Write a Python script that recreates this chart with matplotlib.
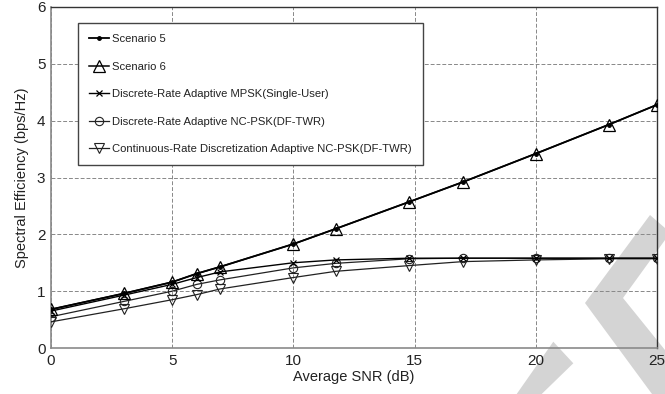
import matplotlib
matplotlib.use("Agg")
import matplotlib.pyplot as plt
from matplotlib.patches import Polygon

plt.rcParams['font.family'] = ['Liberation Sans', 'DejaVu Sans']

snr = [0, 3.01, 5, 6.02, 6.99, 10, 11.76, 14.77, 16.99, 20, 23.01, 25]
scen5 = [0.68, 0.96, 1.16, 1.31, 1.43, 1.83, 2.10, 2.57, 2.92, 3.42, 3.93, 4.28]
scen6 = [0.68, 0.96, 1.16, 1.31, 1.43, 1.83, 2.10, 2.57, 2.92, 3.42, 3.93, 4.28]
mpsk = [0.65, 0.93, 1.12, 1.24, 1.34, 1.50, 1.55, 1.58, 1.58, 1.58, 1.58, 1.58]
ncpsk = [0.55, 0.82, 1.00, 1.12, 1.20, 1.41, 1.49, 1.57, 1.58, 1.58, 1.58, 1.58]
cont = [0.46, 0.69, 0.85, 0.94, 1.04, 1.24, 1.35, 1.45, 1.52, 1.55, 1.57, 1.57]

labels = ["Scenario 5", "Scenario 6", "Discrete-Rate Adaptive MPSK(Single-User)",
          "Discrete-Rate Adaptive NC-PSK(DF-TWR)",
          "Continuous-Rate Discretization Adaptive NC-PSK(DF-TWR)"]
xticks = [0, 5, 10, 15, 20, 25]
yticks = [0, 1, 2, 3, 4, 5, 6]

fig = plt.figure(figsize=(6.65, 3.94), dpi=100)
fig.patch.set_facecolor('white')
ax = fig.add_axes([51/665, 1-348/394, 606/665, 341/394])
ax.set_facecolor('none')

ax.plot(snr, scen5, color='black', lw=1.3, marker='.', ms=5, label=labels[0], zorder=5)
ax.plot(snr, scen6, color='black', lw=1.1, marker='^', ms=8, mfc='none', mew=0.9, label=labels[1], zorder=4)
ax.plot(snr, mpsk, color='black', lw=1.0, marker='x', ms=5, mew=0.9, label=labels[2], zorder=4)
ax.plot(snr, ncpsk, color='#222222', lw=0.9, marker='o', ms=6, mfc='none', mew=0.8, label=labels[3], zorder=3)
ax.plot(snr, cont, color='#222222', lw=0.9, marker='v', ms=6.5, mfc='none', mew=0.8, label=labels[4], zorder=3)

ax.set_xlim(0, 25)
ax.set_ylim(0, 6)
ax.set_xticks(xticks)
ax.set_yticks(yticks)
ax.tick_params(length=0, labelsize=11, colors='#222222', pad=4)
ax.grid(True, ls=(0, (4, 2)), color='#888888', lw=0.7)
ax.set_axisbelow(True)
for s in ['left', 'bottom']:
    ax.spines[s].set_color('#8a8a8a')
    ax.spines[s].set_linewidth(1.2)
for s in ['top', 'right']:
    ax.spines[s].set_color('#333333')
    ax.spines[s].set_linewidth(1.0)

ax.set_xlabel("Average SNR (dB)", fontsize=10.5, color='#222222', labelpad=2)
ax.set_ylabel("Spectral Efficiency (bps/Hz)", fontsize=10.5, color='#222222', labelpad=6)

leg = ax.legend(loc='upper left', bbox_to_anchor=((78-51)/606, (348-23)/341),
                borderaxespad=0, fontsize=8.1, labelspacing=1.55, handlelength=1.75,
                handletextpad=0.25, borderpad=1.0, fancybox=False, framealpha=1,
                edgecolor='#444444')
leg.get_frame().set_linewidth(1.0)
for t in leg.get_texts():
    t.set_color('#222222')

def px(pts):
    return [(x/665, 1-y/394) for x, y in pts]

band1 = px([(516.7, 394), (553.3, 341.7), (573.3, 363.3), (541.7, 394)])
band2 = px([(650, 215), (585, 303), (652, 394), (665, 394), (665, 350), (623, 298), (665, 240), (665, 228)])
for b in (band1, band2):
    fig.add_artist(Polygon(b, closed=True, transform=fig.transFigure,
                           facecolor='#d4d4d4', edgecolor='none', zorder=-1))

fig.savefig("out.png", dpi=100)
